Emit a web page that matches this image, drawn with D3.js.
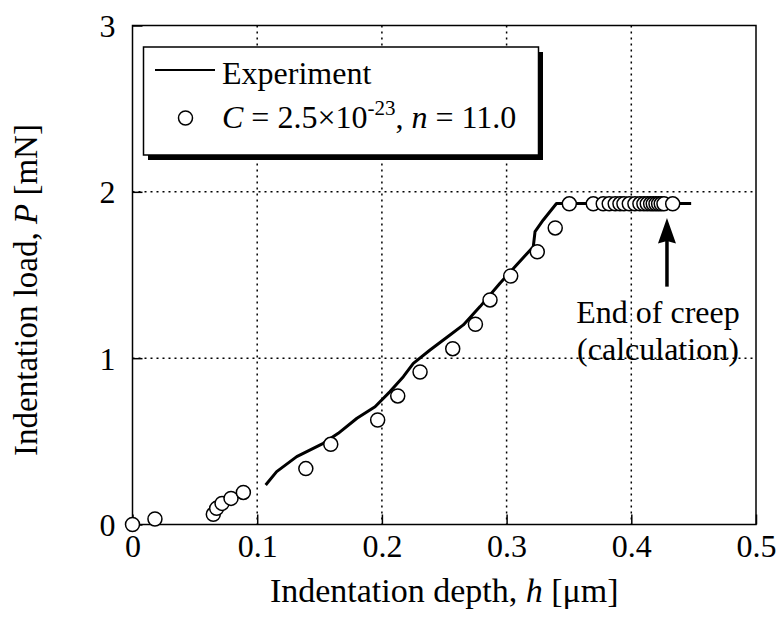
<!DOCTYPE html>
<html>
<head>
<meta charset="utf-8">
<script src="https://cdn.jsdelivr.net/npm/d3@7"></script>
<style>
  body { margin: 0; background: #fff; overflow: hidden; }
  svg { display: block; }
  text { font-family: "Liberation Serif", "Times New Roman", serif; fill: #000; }
</style>
</head>
<body>
<svg id="chart" width="783" height="619"></svg>
<script>
// experiment curve (h in um, P in mN)
const expH = [0.1068, 0.1156, 0.1317, 0.153, 0.165, 0.18, 0.1945, 0.2065, 0.2172, 0.2252, 0.2386, 0.2546, 0.2653, 0.2787, 0.2947, 0.3067, 0.3214, 0.3228, 0.3294, 0.340, 0.448];
const expP = [0.2375, 0.318, 0.408, 0.488, 0.548, 0.639, 0.708, 0.799, 0.889, 0.969, 1.049, 1.139, 1.2, 1.31, 1.45, 1.55, 1.67, 1.761, 1.831, 1.93, 1.93];

// calculation C = 2.5e-23, n = 11.0
const calcH = [0, 0.018, 0.0648, 0.0675, 0.0718, 0.079, 0.0889, 0.139, 0.159, 0.1966, 0.2127, 0.2306, 0.2568, 0.275, 0.2867, 0.3033, 0.3246, 0.339,
  0.3503, 0.3695, 0.3775, 0.3823, 0.3871, 0.3909, 0.3941, 0.3984, 0.4029, 0.4069, 0.4101, 0.4128, 0.4155, 0.4176, 0.4198, 0.4219, 0.4240, 0.4262, 0.4332];
const calcP = [0, 0.033, 0.061, 0.097, 0.127, 0.157, 0.193, 0.336, 0.482, 0.628, 0.773, 0.917, 1.057, 1.204, 1.35, 1.494, 1.64, 1.783,
  1.928, 1.928, 1.928, 1.928, 1.928, 1.928, 1.928, 1.928, 1.928, 1.928, 1.928, 1.928, 1.928, 1.928, 1.928, 1.928, 1.928, 1.928, 1.928];

const xTicks = [0, 0.1, 0.2, 0.3, 0.4, 0.5];
const yTicks = [0, 1, 2, 3];

const svg = d3.select('#chart');
const width = +svg.attr('width');
const height = +svg.attr('height');
const margin = {top: 25.5, right: 27, bottom: 94.5, left: 132.5};
const innerWidth = width - margin.left - margin.right;
const innerHeight = height - margin.top - margin.bottom;

const x = d3.scaleLinear().domain([0, 0.5]).range([0, innerWidth]);
const y = d3.scaleLinear().domain([0, 3]).range([innerHeight, 0]);

const g = svg.append('g').attr('transform', `translate(${margin.left},${margin.top})`);

// dotted grid
g.selectAll('.gx').data(xTicks.slice(1, -1)).enter().append('line')
  .attr('x1', d => x(d)).attr('x2', d => x(d)).attr('y1', 0).attr('y2', innerHeight)
  .attr('stroke', '#000').attr('stroke-width', 1.5).attr('stroke-dasharray', '2,4');
g.selectAll('.gy').data(yTicks.slice(1, -1)).enter().append('line')
  .attr('x1', 0).attr('x2', innerWidth).attr('y1', d => y(d)).attr('y2', d => y(d))
  .attr('stroke', '#000').attr('stroke-width', 1.5).attr('stroke-dasharray', '2,4');

// axes with inward ticks
const xAxis = g.append('g').attr('transform', `translate(0,${innerHeight})`)
  .call(d3.axisBottom(x).tickValues(xTicks).tickSize(-10).tickPadding(10).tickFormat(d => d === 0 ? '0' : d3.format('.1f')(d)));
const yAxis = g.append('g')
  .call(d3.axisLeft(y).tickValues(yTicks).tickSize(-10).tickPadding(17).tickFormat(d3.format('d')));
[xAxis, yAxis].forEach(a => {
  a.select('.domain').remove();
  a.selectAll('line').attr('stroke', '#000').attr('stroke-width', 1.5);
  a.selectAll('text').style('font-family', '"Liberation Serif", serif').style('font-size', '32px');
});
yAxis.selectAll('text').attr('dy', '0.34em');

// frame
g.append('rect').attr('width', innerWidth).attr('height', innerHeight)
  .attr('fill', 'none').attr('stroke', '#000').attr('stroke-width', 1.5);

// experiment line
const line = d3.line().x((d, i) => x(expH[i])).y((d, i) => y(expP[i]));
g.append('path').datum(expH).attr('d', line)
  .attr('fill', 'none').attr('stroke', '#000').attr('stroke-width', 3).attr('stroke-linejoin', 'round');

// calculated points
g.selectAll('circle.pt').data(calcH).enter().append('circle')
  .attr('cx', d => x(d)).attr('cy', (d, i) => y(calcP[i])).attr('r', 7)
  .attr('fill', '#fff').attr('stroke', '#000').attr('stroke-width', 1.5);

// arrow + annotation
const ax = x(0.4286);
g.append('line').attr('x1', ax).attr('x2', ax).attr('y1', y(1.43)).attr('y2', y(1.76))
  .attr('stroke', '#000').attr('stroke-width', 3.5);
g.append('path')
  .attr('d', `M${ax},${y(1.843)} L${ax - 9},${y(1.69)} L${ax},${y(1.705)} L${ax + 9},${y(1.69)} Z`)
  .attr('fill', '#000');
g.append('text').attr('x', ax - 9).attr('y', y(1.21)).attr('text-anchor', 'middle')
  .style('font-size', '32px').text('End of creep');
g.append('text').attr('x', ax - 9).attr('y', y(0.99)).attr('text-anchor', 'middle')
  .style('font-size', '32px').text('(calculation)');

// legend with shadow
const lg = svg.append('g');
lg.append('rect').attr('x', 148).attr('y', 52).attr('width', 395).attr('height', 108).attr('fill', '#000');
lg.append('rect').attr('x', 143.5).attr('y', 47).attr('width', 395).attr('height', 108)
  .attr('fill', '#fff').attr('stroke', '#000').attr('stroke-width', 1.5);
lg.append('line').attr('x1', 155).attr('x2', 215).attr('y1', 70).attr('y2', 70)
  .attr('stroke', '#000').attr('stroke-width', 2);
lg.append('text').attr('x', 222).attr('y', 84).style('font-size', '32px').text('Experiment');
lg.append('circle').attr('cx', 185.5).attr('cy', 118).attr('r', 7)
  .attr('fill', '#fff').attr('stroke', '#000').attr('stroke-width', 1.5);
const lt = lg.append('text').attr('x', 222).attr('y', 128).style('font-size', '32px');
lt.append('tspan').style('font-style', 'italic').text('C');
lt.append('tspan').text(' = 2.5×10');
lt.append('tspan').attr('dy', -13).style('font-size', '21px').text('-23');
lt.append('tspan').attr('dy', 13).text(', ');
lt.append('tspan').style('font-style', 'italic').text('n');
lt.append('tspan').text(' = 11.0');

// axis titles
const xt = svg.append('text').attr('x', margin.left + innerWidth / 2).attr('y', 602)
  .attr('text-anchor', 'middle').style('font-size', '34px');
xt.append('tspan').text('Indentation depth, ');
xt.append('tspan').style('font-style', 'italic').text('h');
xt.append('tspan').text(' [μm]');

const yt = svg.append('text').attr('transform', 'translate(37,290) rotate(-90)')
  .attr('text-anchor', 'middle').style('font-size', '33px');
yt.append('tspan').text('Indentation load, ');
yt.append('tspan').style('font-style', 'italic').text('P');
yt.append('tspan').text(' [mN]');
</script>
</body>
</html>
